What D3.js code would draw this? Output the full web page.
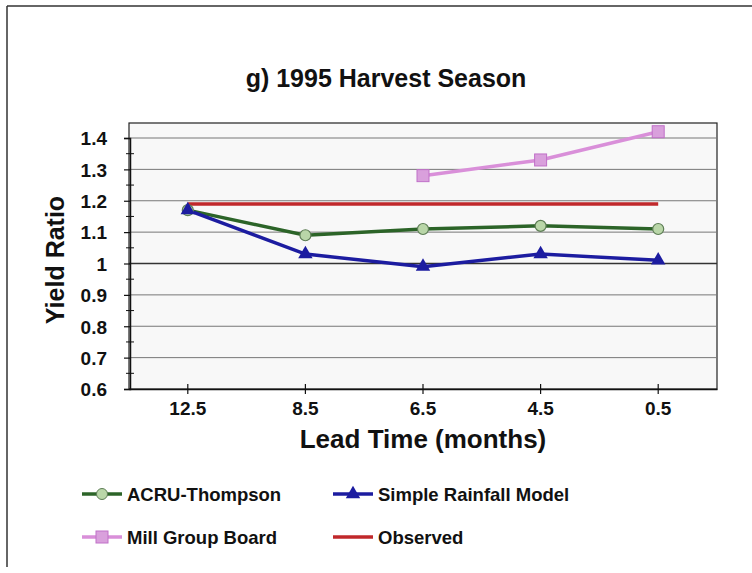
<!DOCTYPE html>
<html><head><meta charset="utf-8">
<script src="https://cdn.jsdelivr.net/npm/d3@7"></script>
<style>
body{margin:0;background:#fff;}
text{font-family:"Liberation Sans",Arial,sans-serif;font-weight:bold;fill:#111;}
</style></head>
<body><svg id="c" width="752" height="573"></svg>
<script>
const categories = ["12.5","8.5","6.5","4.5","0.5"];
const acruThompson = [1.17,1.09,1.11,1.12,1.11];
const simpleRainfall = [1.17,1.03,0.99,1.03,1.01];
const millGroupBoard = [null,null,1.28,1.33,1.42];
const observed = [1.19,1.19,1.19,1.19,1.19];
const yTicks = [0.6,0.7,0.8,0.9,1,1.1,1.2,1.3,1.4];
const yMinorTicks = [0.65,0.75,0.85,0.95,1.05,1.15,1.25,1.35];
const seriesNames = ["ACRU-Thompson","Simple Rainfall Model","Mill Group Board","Observed"];

const svg = d3.select("#c");
const L=129, R=717, T=123, B=389;
const x = d3.scaleBand().domain(categories).range([L,R]).padding(0);
const cx = c => x(c)+x.bandwidth()/2;
const y = d3.scaleLinear().domain([0.6,1.4]).range([B,138]);

// outer frame
svg.append("line").attr("x1",7).attr("x2",752).attr("y1",6).attr("y2",6).attr("stroke","#333").attr("stroke-width",1.5);
svg.append("line").attr("x1",7).attr("x2",7).attr("y1",6).attr("y2",567).attr("stroke","#333").attr("stroke-width",1.5);

// plot background
svg.append("rect").attr("x",L).attr("y",T).attr("width",R-L).attr("height",B-T).attr("fill","#f8f8f8").attr("stroke","#222").attr("stroke-width",1.2);

// gridlines
svg.append("g").selectAll("line").data(yTicks.filter(d=>d>0.6)).join("line")
  .attr("x1",L).attr("x2",R).attr("y1",d=>y(d)).attr("y2",d=>y(d))
  .attr("stroke",d=>d===1?"#333":"#777").attr("stroke-width",d=>d===1?1.4:1);

// y axis
const yAxis = d3.axisLeft(y).tickValues(yTicks).tickSize(6).tickPadding(17).tickFormat(d=>d===1?"1":d3.format(".1f")(d));
const gy = svg.append("g").attr("transform",`translate(${L+1},0)`).call(yAxis);
gy.select(".domain").attr("stroke","#111").attr("stroke-width",1.5);
gy.selectAll(".tick line").attr("stroke","#111").attr("stroke-width",1.2);
gy.selectAll(".tick text").attr("font-size","19px").attr("font-weight","bold").attr("fill","#111").attr("dy","0.36em");
svg.append("g").selectAll("line").data(yMinorTicks).join("line")
  .attr("x1",L-3).attr("x2",L+5).attr("y1",d=>y(d)).attr("y2",d=>y(d)).attr("stroke","#111").attr("stroke-width",1);

// x axis
const xAxis = d3.axisBottom(x).tickSizeInner(5).tickSizeOuter(0).tickPadding(8);
const gx = svg.append("g").attr("transform",`translate(0,${B})`).call(xAxis);
gx.select(".domain").attr("stroke","#111").attr("stroke-width",1.5);
gx.selectAll(".tick line").attr("y1",-5).attr("stroke","#111").attr("stroke-width",1.2);
gx.selectAll(".tick text").attr("font-size","19px").attr("font-weight","bold").attr("fill","#111");

// titles
svg.append("text").attr("x",386).attr("y",87).attr("text-anchor","middle").attr("font-size","25px").text("g) 1995 Harvest Season");
svg.append("text").attr("x",423).attr("y",448).attr("text-anchor","middle").attr("font-size","26px").text("Lead Time (months)");
svg.append("text").attr("transform","translate(64,260) rotate(-90)").attr("text-anchor","middle").attr("font-size","25px").text("Yield Ratio");

// series
const cols = {acru:"#2c6428", acruFill:"#b9d6a8", blue:"#1c1ca0", pink:"#d98fd9", pinkFill:"#d9a0dc", red:"#c0282b"};
function lineOf(vals){
  return d3.line().defined(d=>d.v!=null).x(d=>cx(d.c)).y(d=>y(d.v))(categories.map((c,i)=>({c,v:vals[i]})));
}
svg.append("path").attr("d",lineOf(observed)).attr("fill","none").attr("stroke",cols.red).attr("stroke-width",3.5);
svg.append("path").attr("d",lineOf(acruThompson)).attr("fill","none").attr("stroke",cols.acru).attr("stroke-width",3.5);
svg.append("path").attr("d",lineOf(millGroupBoard)).attr("fill","none").attr("stroke",cols.pink).attr("stroke-width",3.5);
svg.append("path").attr("d",lineOf(simpleRainfall)).attr("fill","none").attr("stroke",cols.blue).attr("stroke-width",3.5);

const pts = vals => categories.map((c,i)=>({c,v:vals[i]})).filter(d=>d.v!=null);
svg.append("g").selectAll("circle").data(pts(acruThompson)).join("circle")
  .attr("cx",d=>cx(d.c)).attr("cy",d=>y(d.v)).attr("r",5.5).attr("fill",cols.acruFill).attr("stroke","#5d7d55").attr("stroke-width",1.2);
svg.append("g").selectAll("rect").data(pts(millGroupBoard)).join("rect")
  .attr("x",d=>cx(d.c)-6).attr("y",d=>y(d.v)-6).attr("width",12).attr("height",12).attr("fill",cols.pinkFill).attr("stroke","#c070c8").attr("stroke-width",1);
const tri = d3.symbol().type(d3.symbolTriangle).size(90);
svg.append("g").selectAll("path").data(pts(simpleRainfall)).join("path")
  .attr("transform",d=>`translate(${cx(d.c)},${y(d.v)})`).attr("d",tri).attr("fill",cols.blue);

// legend
const legend = [
  {name:seriesNames[0], x:82, y:494, color:cols.acru, mark:"circle"},
  {name:seriesNames[1], x:333, y:494, color:cols.blue, mark:"triangle"},
  {name:seriesNames[2], x:82, y:537, color:cols.pink, mark:"square"},
  {name:seriesNames[3], x:333, y:537, color:cols.red, mark:"none"}
];
const lg = svg.append("g").selectAll("g").data(legend).join("g").attr("transform",d=>`translate(${d.x},${d.y})`);
lg.append("line").attr("x1",0).attr("x2",40).attr("stroke",d=>d.color).attr("stroke-width",3.5);
lg.filter(d=>d.mark==="circle").append("circle").attr("cx",20).attr("r",5.5).attr("fill",cols.acruFill).attr("stroke","#5d7d55");
lg.filter(d=>d.mark==="square").append("rect").attr("x",14).attr("y",-6).attr("width",12).attr("height",12).attr("fill",cols.pinkFill).attr("stroke","#c070c8");
lg.filter(d=>d.mark==="triangle").append("path").attr("transform","translate(20,0)").attr("d",tri).attr("fill",cols.blue);
lg.append("text").attr("x",45).attr("y",0).attr("dy","0.36em").attr("font-size","18.5px").text(d=>d.name);
</script></body></html>
